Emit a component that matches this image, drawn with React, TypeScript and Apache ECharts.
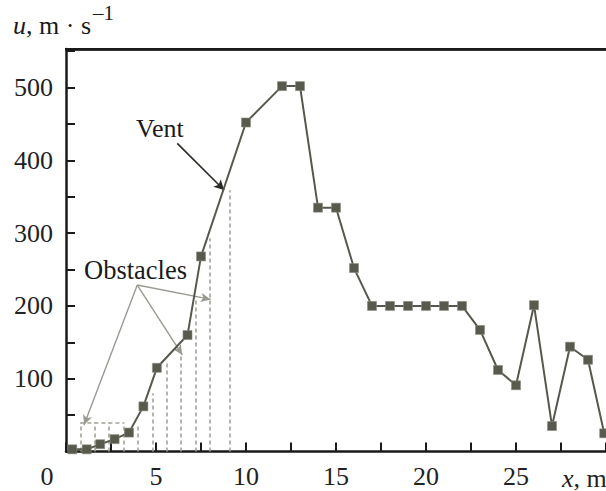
import React, { useEffect, useRef } from "react";
import * as echarts from "echarts";

// Velocity profile u(x)
const xValues = [0.35, 1.15, 1.9, 2.7, 3.5, 4.3, 5.05, 6.75, 7.5, 10, 12, 13, 14, 15, 16, 17, 18, 19, 20, 21, 22, 23, 24, 25, 26, 27, 28, 29, 29.9];
const uValues = [3, 3, 10, 17, 26, 62, 115, 160, 268, 452, 502, 502, 335, 335, 252, 200, 200, 200, 200, 200, 200, 167, 112, 91, 201, 35, 144, 126, 25];

// Obstacles (dashed verticals): position and top height
const obstacleX = [0.8, 1.6, 2.4, 3.2, 4.0, 4.8, 5.6, 6.4, 7.2, 8.0, 9.1];
const obstacleTop = [40, 40, 40, 40, 36, 80, 125, 133, 212, 293, 359];
const obstacleCap = [[0.8, 40], [3.2, 40]];

// Annotation arrows (data coordinates)
const obstacleArrowFrom = [3.96, 228.7];
const obstacleArrowTips = [[1.0, 36.4], [6.46, 132.6], [8.04, 209]];
const ventArrow = [[6.18, 423.4], [8.78, 359.2]];

// Axis ranges and tick labels
const X_MAX = 30;
const Y_MAX = 553;
const xTickLabels = [5, 10, 15, 20, 25];
const yTickLabels = [100, 200, 300, 400, 500];

const FONT = "Liberation Serif";

export default function App() {
  const ref = useRef<HTMLDivElement>(null);

  useEffect(() => {
    if (!ref.current) return;
    const chart = echarts.init(ref.current, undefined, { renderer: "svg" });

    const points = xValues.map((x, i) => [x, uValues[i]]);

    const obstacleLines: any[] = obstacleX.map((x, i) => [
      { coord: [x, 0] },
      { coord: [x, obstacleTop[i]] },
    ]);
    obstacleLines.push([{ coord: obstacleCap[0] }, { coord: obstacleCap[1] }]);

    const obstacleArrows = obstacleArrowTips.map((tip) => [
      { coord: obstacleArrowFrom },
      { coord: tip },
    ]);

    const option: any = {
      animation: false,
      textStyle: { fontFamily: FONT },
      grid: {
        left: 66,
        top: 49,
        width: 540,
        height: 402.5,
        containLabel: false,
        outerBoundsMode: "none",
      },
      xAxis: {
        type: "value",
        min: 0,
        max: X_MAX,
        interval: 2.5,
        axisLine: { show: true, onZero: false, lineStyle: { color: "#1a1a1a", width: 2.5 } },
        axisTick: { show: true, inside: true, length: 9, lineStyle: { color: "#1a1a1a", width: 2 } },
        axisLabel: {
          show: true,
          margin: 12,
          fontSize: 26,
          fontFamily: FONT,
          color: "#222",
          formatter: (v: number) => (xTickLabels.includes(v) ? String(v) : ""),
        },
        splitLine: { show: false },
      },
      yAxis: {
        type: "value",
        min: 0,
        max: Y_MAX,
        interval: 50,
        axisLine: { show: true, onZero: false, lineStyle: { color: "#1a1a1a", width: 2.5 } },
        axisTick: {
          show: true,
          inside: true,
          length: 9,
          lineStyle: { color: "#1a1a1a", width: 2 },
        },
        axisLabel: {
          show: true,
          margin: 13,
          fontSize: 26,
          fontFamily: FONT,
          color: "#222",
          formatter: (v: number) => (yTickLabels.includes(v) ? String(v) : ""),
        },
        splitLine: { show: false },
      },
      series: [
        {
          type: "line",
          data: [],
          silent: true,
          z: 1,
          markLine: {
            silent: true,
            symbol: ["none", "none"],
            label: { show: false },
            emphasis: { disabled: true },
            lineStyle: { color: "#a3a39a", width: 1.6, type: [4, 3] },
            data: obstacleLines,
          },
        },
        {
          type: "line",
          data: [],
          silent: true,
          z: 2,
          markLine: {
            silent: true,
            symbol: ["none", "arrow"],
            symbolSize: [7, 10],
            label: { show: false },
            emphasis: { disabled: true },
            lineStyle: { color: "#9a9a92", width: 1.4, type: "solid" },
            data: obstacleArrows,
          },
        },
        {
          type: "line",
          data: points,
          z: 5,
          symbol: "rect",
          symbolSize: 9,
          showAllSymbol: true,
          itemStyle: { color: "#595a4e", borderColor: "#8a8a80", borderWidth: 0.6 },
          lineStyle: { color: "#57584d", width: 2 },
          silent: true,
        },
        {
          type: "line",
          data: [],
          silent: true,
          z: 6,
          clip: false,
          markLine: {
            silent: true,
            symbol: ["none", "arrow"],
            symbolSize: [8, 10],
            label: { show: false },
            emphasis: { disabled: true },
            lineStyle: { color: "#2a2a25", width: 1.6, type: "solid" },
            data: [
              [{ coord: ventArrow[0] }, { coord: ventArrow[1] }],
              [
                { coord: [0, Y_MAX], symbol: "none", lineStyle: { color: "#1a1a1a", width: 2.5, type: "solid" } },
                { coord: [X_MAX, Y_MAX], symbol: "none" },
              ],
            ],
          },
        },
      ],
      graphic: {
        elements: [
          {
            type: "polyline",
            silent: true,
            z: 100,
            shape: { points: [[65, 49.3], [606, 49.3]] },
            style: { stroke: "#1a1a1a", lineWidth: 2.5, fill: null },
          },
          {
            type: "text",
            left: 13,
            top: 12,
            style: {
              text: "{i|u}, m · s",
              fontSize: 26,
              fontFamily: FONT,
              fill: "#1a1a1a",
              rich: {
                i: { fontStyle: "italic", fontSize: 26, fontFamily: FONT, fill: "#1a1a1a" },
              },
            },
          },
          {
            type: "text",
            left: 93,
            top: 2,
            style: { text: "–1", fontSize: 21, fontFamily: FONT, fill: "#1a1a1a" },
          },
          {
            type: "text",
            x: 47,
            y: 476,
            style: { text: "0", fontSize: 26, fontFamily: FONT, fill: "#222", align: "center", verticalAlign: "middle" },
          },
          {
            type: "text",
            x: 562,
            y: 478,
            style: {
              text: "{i|x}, m",
              fontSize: 26,
              fontFamily: FONT,
              fill: "#222",
              align: "left",
              verticalAlign: "middle",
              rich: { i: { fontStyle: "italic", fontSize: 26, fontFamily: FONT, fill: "#222" } },
            },
          },
          {
            type: "text",
            x: 136,
            y: 128,
            style: { text: "Vent", fontSize: 26, fontFamily: FONT, fill: "#1a1a1a", align: "left", verticalAlign: "middle" },
          },
          {
            type: "text",
            x: 84,
            y: 270,
            style: { text: "Obstacles", fontSize: 26.5, fontFamily: FONT, fill: "#1a1a1a", align: "left", verticalAlign: "middle" },
          },
        ],
      },
    };

    chart.setOption(option);
    return () => chart.dispose();
  }, []);

  return (
    <div
      ref={ref}
      style={{ position: "absolute", left: 0, top: 0, width: 606, height: 491, background: "#fff" }}
    />
  );
}
